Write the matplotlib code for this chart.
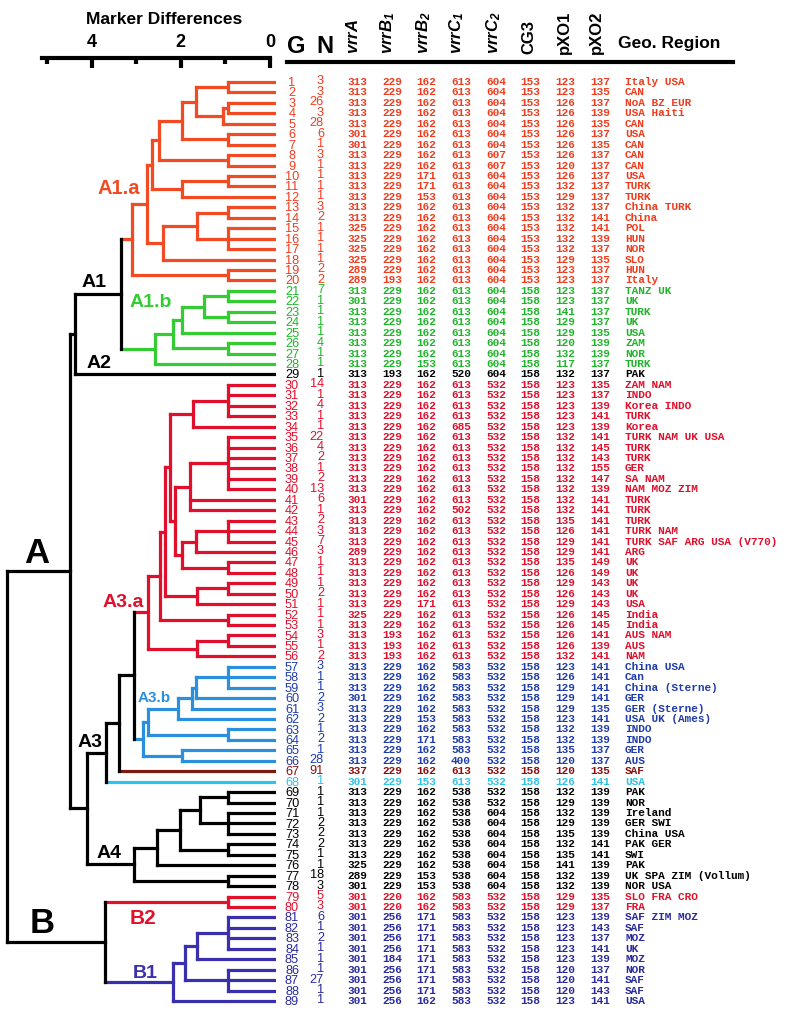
import matplotlib
matplotlib.use("Agg")
import matplotlib.pyplot as plt

# ---------------- table data, genotype G = 1..89 ----------------
genotype = list(range(1, 90))
n_isolates = [3, 3, 26, 3, 28, 6, 1, 3, 1, 1,
              1, 1, 3, 2, 1, 1, 1, 1, 2, 2,
              7, 1, 1, 1, 1, 4, 1, 1, 1, 14,
              1, 4, 1, 1, 22, 4, 2, 1, 2, 13,
              6, 1, 2, 3, 7, 3, 1, 1, 1, 2,
              1, 1, 1, 3, 1, 2, 3, 1, 1, 2,
              3, 2, 1, 2, 1, 28, 91, 1, 1, 1,
              1, 2, 2, 2, 1, 1, 18, 3, 5, 3,
              6, 1, 2, 1, 1, 1, 27, 1, 1]
vrrA = [313, 313, 313, 313, 313, 301, 301, 313, 313, 313,
        313, 313, 313, 313, 325, 325, 325, 325, 289, 289,
        313, 301, 313, 313, 313, 313, 313, 313, 313, 313,
        313, 313, 313, 313, 313, 313, 313, 313, 313, 313,
        301, 313, 313, 313, 313, 289, 313, 313, 313, 313,
        313, 325, 313, 313, 313, 313, 313, 313, 313, 301,
        313, 313, 313, 313, 313, 313, 337, 301, 313, 313,
        313, 313, 313, 313, 313, 325, 289, 301, 301, 301,
        301, 301, 301, 301, 301, 301, 301, 301, 301]
vrrB1 = [229] * 19 + [193] + [229] * 8 + [193] + [229] * 24 + [193, 193, 193] \
    + [229] * 22 + [220, 220] + [256, 256, 256, 256, 184, 256, 256, 256, 256]
vrrB2 = [162, 162, 162, 162, 162, 162, 162, 162, 162, 171,
         171, 153, 162, 162, 162, 162, 162, 162, 162, 162,
         162, 162, 162, 162, 162, 162, 162, 153, 162, 162,
         162, 162, 162, 162, 162, 162, 162, 162, 162, 162,
         162, 162, 162, 162, 162, 162, 162, 162, 162, 162,
         171, 162, 162, 162, 162, 162, 162, 162, 162, 162,
         162, 153, 162, 171, 162, 162, 162, 153, 162, 162,
         162, 162, 162, 162, 162, 162, 153, 153, 162, 162,
         171, 171, 171, 171, 171, 171, 171, 171, 162]
vrrC1 = [613] * 28 + [520] + [613] * 4 + [685] + [613] * 7 + [502] + [613] * 14 \
    + [583] * 9 + [400, 613, 613] + [538] * 10 + [583] * 11
vrrC2 = [604] * 7 + [607, 607] + [604] * 20 + [532] * 41 + [604] * 8 + [532] * 11
cg3 = [153] * 20 + [158] * 69
pxo1 = [123, 123, 126, 126, 126, 126, 126, 126, 120, 126,
        132, 129, 132, 132, 132, 132, 132, 129, 123, 123,
        123, 123, 141, 129, 129, 120, 132, 117, 132, 123,
        123, 123, 123, 123, 132, 132, 132, 132, 132, 132,
        132, 132, 135, 126, 129, 129, 135, 126, 129, 126,
        129, 126, 126, 126, 126, 132, 123, 126, 129, 129,
        129, 123, 132, 132, 135, 120, 120, 126, 132, 129,
        132, 129, 135, 132, 135, 141, 132, 132, 129, 129,
        123, 123, 123, 123, 123, 120, 120, 120, 123]
pxo2 = [137, 135, 137, 139, 135, 137, 135, 137, 137, 137,
        137, 137, 137, 141, 141, 139, 137, 135, 137, 137,
        137, 137, 137, 137, 135, 139, 139, 137, 137, 135,
        137, 139, 141, 139, 141, 145, 143, 155, 147, 139,
        141, 141, 141, 141, 141, 141, 149, 149, 143, 143,
        143, 145, 145, 141, 139, 141, 141, 141, 141, 141,
        135, 141, 139, 139, 137, 137, 135, 141, 139, 139,
        139, 139, 139, 141, 141, 139, 139, 139, 135, 137,
        139, 143, 137, 141, 139, 137, 141, 143, 141]
region = ["Italy USA", "CAN", "NoA BZ EUR", "USA Haiti", "CAN", "USA", "CAN", "CAN", "CAN", "USA",
          "TURK", "TURK", "China TURK", "China", "POL", "HUN", "NOR", "SLO", "HUN", "Italy",
          "TANZ UK", "UK", "TURK", "UK", "USA", "ZAM", "NOR", "TURK", "PAK", "ZAM NAM",
          "INDO", "Korea INDO", "TURK", "Korea", "TURK NAM UK USA", "TURK", "TURK", "GER", "SA NAM",
          "NAM MOZ ZIM",
          "TURK", "TURK", "TURK", "TURK NAM", "TURK SAF ARG USA (V770)", "ARG", "UK", "UK", "UK", "UK",
          "USA", "India", "India", "AUS NAM", "AUS", "NAM", "China USA", "Can", "China (Sterne)", "GER",
          "GER (Sterne)", "USA UK (Ames)", "INDO", "INDO", "GER", "AUS", "SAF", "USA", "PAK", "NOR",
          "Ireland", "GER SWI", "China USA", "PAK GER", "SWI", "PAK", "UK SPA ZIM (Vollum)", "NOR USA",
          "SLO FRA CRO", "FRA",
          "SAF ZIM MOZ", "SAF", "MOZ", "UK", "MOZ", "NOR", "SAF", "SAF", "USA"]
group = ["A1.a"] * 20 + ["A1.b"] * 8 + ["A2"] + ["A3.a"] * 27 + ["A3.b"] * 10 \
    + ["SAF"] + ["USA68"] + ["A4"] * 10 + ["B2"] * 2 + ["B1"] * 9

table_col = {"A1.a": "#f03c1e", "A1.b": "#1fb52a", "A2": "black", "A3.a": "#e0102c",
             "A3.b": "#1f3caa", "SAF": "#8a0f0f", "USA68": "#2ec3ea", "A4": "black",
             "B2": "#e3102a", "B1": "#2a2a9c"}
tree_col = dict(table_col, **{"A1.a": "#f24a22", "A1.b": "#33cc33", "A3.b": "#2b8fe0",
                              "SAF": "#7a1a12", "B1": "#3a2fae"})


# ---------------- dendrogram (heights in marker differences) ----------------
def node(h, kids, color="black"):
    return {"h": h, "kids": kids, "color": color}


O, G, R, BL, NV = tree_col["A1.a"], tree_col["A1.b"], tree_col["A3.a"], tree_col["A3.b"], tree_col["B1"]

a1a = node(3.10, [
    node(2.76, [
        node(2.65, [
            node(2.50, [
                node(1.98, [
                    node(1.66, [node(0.95, [1, 2], O), node(1.05, [node(0.95, [3, 4], O), 5], O)], O),
                    node(0.95, [6, 7], O)], O),
                node(0.95, [8, 9], O)], O),
            node(1.98, [node(0.95, [10, 11], O), 12], O)], O),
        node(2.39, [node(1.64, [node(0.95, [13, 14], O), node(0.95, [15, 16, 17], O)], O), 18], O)], O),
    node(0.95, [19, 20], O)], O)
a1b = node(2.58, [
    node(2.18, [
        node(1.98, [node(1.48, [node(0.95, [21, 22], G), node(0.95, [23, 24], G)], G), 25], G),
        node(0.95, [26, 27], G)], G),
    28], G)
a12 = node(4.37, [node(3.33, [a1a, a1b]), 29])

a3a = node(2.73, [
    node(2.47, [
        node(2.35, [
            node(2.24, [
                node(1.72, [node(0.95, [30, 31, 32, 33], R), 34], R),
                node(2.13, [
                    node(1.80, [node(0.95, [35, 36, 37, 38, 39, 40], R), 41, 42], R),
                    node(1.98, [node(1.66, [node(0.95, [43, 44, 45], R), 46], R),
                                node(0.95, [47, 48], R)], R)], R)], R),
            node(1.64, [node(0.95, [49, 50], R), 51], R)], R),
        node(0.95, [52, 53], R)], R),
    node(1.64, [node(0.95, [54, 55], R), 56], R)], R)
a3b = node(2.85, [
    node(2.73, [
        node(2.06, [node(1.75, [node(1.66, [node(0.95, [57, 58, 59], BL), 60], BL), 61], BL), 62], BL),
        node(0.95, [63, 64], BL)], BL),
    node(1.98, [65, 66], BL)], BL)
a3 = node(3.68, [node(3.38, [node(3.06, [a3a, a3b]), 67]), 68])
a4 = node(3.06, [
    node(2.54, [
        node(2.02, [node(1.57, [node(0.95, [69, 70]), node(0.95, [71, 72, 73])]),
                    node(0.95, [74, 75])]),
        76]),
    node(0.95, [77, 78])])
b2 = node(0.95, [79, 80], tree_col["B2"])
b1 = node(2.17, [
    node(1.90, [node(1.64, [node(0.95, [81, 82, 83, 84], NV), 85], NV),
                node(0.95, [86, 87, 88], NV)], NV),
    89], NV)
root = node(5.90, [node(4.48, [a12, node(4.11, [a3, a4])]), node(3.70, [b2, b1])])

# ---------------- layout ----------------
W, H = 800, 1010
ROW0, ROWSTEP = 82.0, 10.443          # pixel y of row 1, spacing
X0, UNIT = 270.0, 44.6                # pixel x of 0 differences, px per unit
y_top_px = 72
ylim = (89 + (H - 1001.0) / ROWSTEP, 1 - (ROW0 - y_top_px) / ROWSTEP)
LEAF_H = -(276 - X0) / UNIT
LW = 2.3

fig = plt.figure(figsize=(W / 100, H / 100), dpi=100)
fig.patch.set_facecolor("white")


def fx(x):
    return x / W


def fy(y):
    return 1 - y / H


ax_d = fig.add_axes([0, 0, fx(276), fy(y_top_px)])
ax_d.set_xlim(X0 / UNIT, LEAF_H)
ax_d.set_ylim(*ylim)
ax_d.axis("off")


def draw(nd):
    if isinstance(nd, int):
        return float(nd), LEAF_H, tree_col[group[nd - 1]]
    pts = [draw(k) for k in nd["kids"]]
    ys = [p[0] for p in pts]
    for y, h, c in pts:
        ax_d.plot([h, nd["h"]], [y, y], color=c, lw=LW, solid_capstyle="projecting")
    ax_d.plot([nd["h"], nd["h"]], [min(ys), max(ys)], color=nd["color"], lw=LW,
              solid_capstyle="projecting")
    return (min(ys) + max(ys)) / 2, nd["h"], nd["color"]


y_root, h_root, _ = draw(root)

# cluster labels (placed in tree coordinates)
def row_of(py):
    return 1 + (py - ROW0) / ROWSTEP


def h_of(px):
    return (X0 - px) / UNIT


labels = [("A1.a", 97, 188, 14.5, O), ("A1", 82, 282, 14, "black"), ("A1.b", 130, 302, 14, G),
          ("A2", 87, 363, 14, "black"), ("A", 24, 553, 25, "black"), ("A3.a", 103, 602, 14, R),
          ("A3.b", 138, 698, 11, tree_col["A3.b"]), ("A3", 78, 742, 14, "black"),
          ("A4", 97, 853, 14, "black"), ("B", 30, 923, 25, "black"), ("B2", 130, 918, 15, tree_col["B2"]),
          ("B1", 133, 973, 14, NV)]
for txt, px, py, fs, c in labels:
    ax_d.text(h_of(px), row_of(py), txt, fontsize=fs, color=c, fontweight="bold",
              family="Liberation Sans", ha="left", va="center")

# scale bar on top
ax_s = fig.add_axes([0, fy(62), fx(276), 0.004])
ax_s.set_xlim(X0 / UNIT, LEAF_H)
ax_s.set_facecolor("none")
for s in ["bottom", "left", "right"]:
    ax_s.spines[s].set_visible(False)
ax_s.spines["top"].set_linewidth(3)
ax_s.spines["top"].set_bounds(h_of(42), 0)
ax_s.xaxis.tick_top()
ax_s.set_xticks([4, 2, 0])
ax_s.set_xticks([5, 3, 1], minor=True)
ax_s.tick_params(axis="x", which="major", direction="in", length=7.5, width=3, pad=5,
                 labelsize=13)
ax_s.tick_params(axis="x", which="minor", direction="in", length=4, width=3)
ax_s.set_yticks([])
for t in ax_s.get_xticklabels():
    t.set_fontweight("bold")
    t.set_family("Liberation Sans")
fig.text(fx(164), fy(20), "Marker Differences", fontsize=12.5, fontweight="bold",
         family="Liberation Sans", ha="center", va="center")

# ---------------- table ----------------
ax_t = fig.add_axes([fx(276), 0, 1 - fx(276), fy(y_top_px)])
ax_t.set_xlim(276, 800)
ax_t.set_ylim(*ylim)
ax_t.axis("off")

columns = [vrrA, vrrB1, vrrB2, vrrC1, vrrC2, cg3, pxo1, pxo2]
col_x = [357, 392, 426, 461, 496, 530, 565, 600]
for i in range(len(genotype)):
    c = table_col[group[i]]
    y = genotype[i]
    ax_t.text(292, y + 0.1, str(genotype[i]), color=c, fontsize=9.2, ha="center", va="center",
              family="Liberation Sans")
    ax_t.text(324, y - 0.05, str(n_isolates[i]), color=c, fontsize=9.2, ha="right", va="center",
              family="Liberation Sans")
    for xv, col in zip(col_x, columns):
        ax_t.text(xv, y, str(col[i]), color=c, fontsize=8, ha="center", va="center",
                  family="Liberation Mono", fontweight="bold")
    ax_t.text(625, y, region[i], color=c, fontsize=8, ha="left", va="center",
              family="Liberation Mono", fontweight="bold")

# header
plt.rcParams["mathtext.fontset"] = "custom"
plt.rcParams["mathtext.it"] = "Liberation Sans:italic:bold"
plt.rcParams["mathtext.rm"] = "Liberation Sans:italic:bold"
fig.text(fx(296), fy(53), "G", fontsize=17, fontweight="bold", family="Liberation Sans",
         ha="center", va="baseline")
fig.text(fx(325), fy(53), "N", fontsize=17, fontweight="bold", family="Liberation Sans",
         ha="center", va="baseline")
col_names = [r"$\mathit{vrrA}$", r"$\mathit{vrrB}_{1}$", r"$\mathit{vrrB}_{2}$",
             r"$\mathit{vrrC}_{1}$", r"$\mathit{vrrC}_{2}$", "CG3", "pXO1", "pXO2"]
col_hx = [353, 388, 424, 457, 494, 529, 564, 596]
for nm, xh in zip(col_names, col_hx):
    fig.text(fx(xh), fy(54), nm, fontsize=12, fontweight="bold", family="Liberation Sans",
             rotation=90, ha="center", va="bottom")
fig.text(fx(618), fy(48), "Geo. Region", fontsize=12.5, fontweight="bold", family="Liberation Sans",
         ha="left", va="baseline")
fig.add_artist(plt.Line2D([fx(287), fx(733)], [fy(62), fy(62)], color="black", lw=3))

fig.savefig("out.png", dpi=100, facecolor="white")
